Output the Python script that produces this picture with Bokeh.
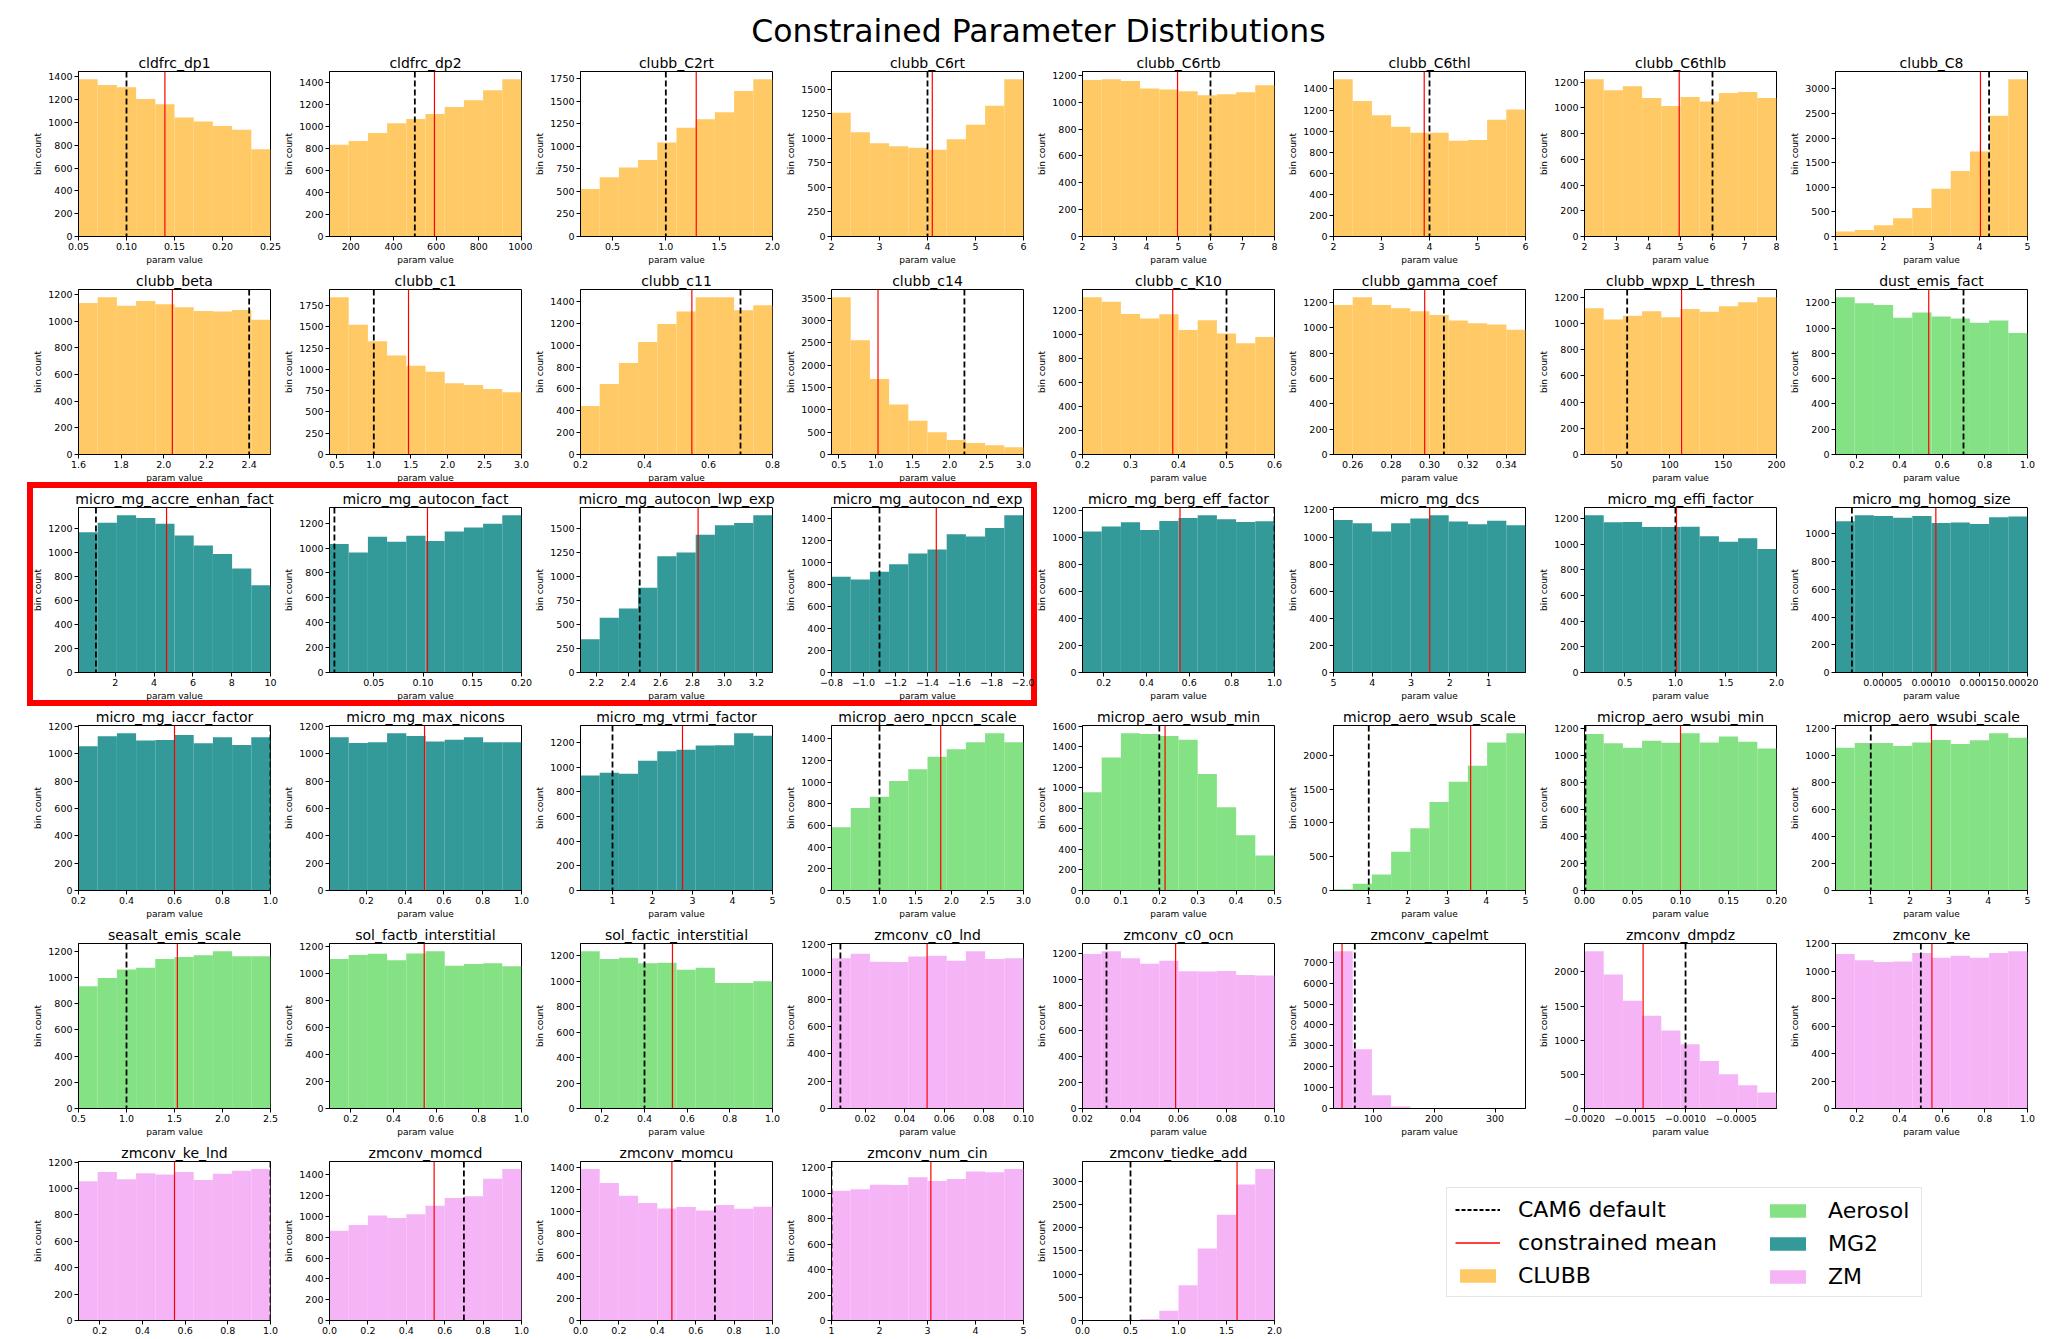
import numpy as np
from bokeh.plotting import figure
from bokeh.models import Range1d, FixedTicker, Span, Label, Legend, LegendItem, Spacer
from bokeh.layouts import row, column
from bokeh.embed import file_html
from bokeh.resources import INLINE

# ---------------- data ----------------
names = ["cldfrc_dp1", "cldfrc_dp2", "clubb_C2rt", "clubb_C6rt", "clubb_C6rtb", "clubb_C6thl", "clubb_C6thlb", "clubb_C8",
         "clubb_beta", "clubb_c1", "clubb_c11", "clubb_c14", "clubb_c_K10", "clubb_gamma_coef", "clubb_wpxp_L_thresh", "dust_emis_fact",
         "micro_mg_accre_enhan_fact", "micro_mg_autocon_fact", "micro_mg_autocon_lwp_exp", "micro_mg_autocon_nd_exp",
         "micro_mg_berg_eff_factor", "micro_mg_dcs", "micro_mg_effi_factor", "micro_mg_homog_size",
         "micro_mg_iaccr_factor", "micro_mg_max_nicons", "micro_mg_vtrmi_factor", "microp_aero_npccn_scale",
         "microp_aero_wsub_min", "microp_aero_wsub_scale", "microp_aero_wsubi_min", "microp_aero_wsubi_scale",
         "seasalt_emis_scale", "sol_factb_interstitial", "sol_factic_interstitial", "zmconv_c0_lnd",
         "zmconv_c0_ocn", "zmconv_capelmt", "zmconv_dmpdz", "zmconv_ke",
         "zmconv_ke_lnd", "zmconv_momcd", "zmconv_momcu", "zmconv_num_cin", "zmconv_tiedke_add"]

groups = ["CLUBB"] * 15 + ["Aerosol"] + ["MG2"] * 11 + ["Aerosol"] * 8 + ["ZM"] * 10

# axis value at the left / right edge of each panel (reversed axes have left > right)
x_left = [0.05, 100, 0.2, 2, 2, 2, 2, 1,
          1.6, 0.4, 0.2, 0.4, 0.2, 0.25, 20, 0.1,
          0.1, 0.005, 2.1, -0.8, 0.1, 5e-5, 0.1, 1e-6,
          0.2, 1e5, 0.2, 0.333, 0.0, 0.1, 0.0, 0.1,
          0.5, 0.1, 0.1, 0.003, 0.02, 35, -0.002, 1e-6,
          1e-6, 0.0, 0.0, 1, 0.0]
x_right = [0.25, 1000, 2.0, 6, 8, 6, 8, 5,
           2.5, 3.0, 0.8, 3.0, 0.6, 0.35, 200, 1.0,
           10, 0.2, 3.3, -2.0, 1.0, 5e-7, 2.0, 2e-4,
           1.0, 1e7, 5, 3.0, 0.5, 5, 0.2, 5,
           2.5, 1.0, 1.0, 0.1, 0.1, 350, -0.0001, 1e-5,
           1e-5, 1.0, 1.0, 5, 2.0]

counts = [
    [1378, 1328, 1308, 1206, 1160, 1044, 1009, 968, 936, 765],
    [836, 872, 944, 1032, 1071, 1116, 1180, 1243, 1334, 1433],
    [526, 658, 765, 849, 1044, 1206, 1301, 1379, 1614, 1743],
    [1260, 1061, 949, 919, 905, 885, 990, 1139, 1331, 1601],
    [1165, 1170, 1158, 1101, 1094, 1081, 1052, 1059, 1074, 1126],
    [1491, 1286, 1151, 1041, 984, 984, 909, 915, 1107, 1204],
    [1222, 1137, 1168, 1077, 1015, 1085, 1049, 1116, 1124, 1077],
    [101, 134, 229, 370, 578, 968, 1332, 1728, 2455, 3194],
    [1136, 1179, 1116, 1151, 1128, 1105, 1077, 1072, 1085, 1011],
    [1847, 1525, 1330, 1163, 1042, 972, 836, 817, 770, 731],
    [445, 645, 839, 1030, 1194, 1309, 1439, 1439, 1321, 1367],
    [3520, 2560, 1690, 1120, 756, 497, 326, 259, 207, 163],
    [1305, 1269, 1167, 1130, 1165, 1033, 1115, 1005, 923, 975],
    [1179, 1240, 1180, 1155, 1130, 1100, 1058, 1035, 1025, 985],
    [1117, 1031, 1059, 1094, 1049, 1112, 1091, 1132, 1162, 1200],
    [1243, 1196, 1183, 1081, 1123, 1092, 1076, 1042, 1060, 961],
    [1172, 1250, 1312, 1290, 1242, 1144, 1060, 990, 869, 729],
    [1032, 965, 1092, 1051, 1100, 1057, 1133, 1165, 1195, 1263],
    [346, 571, 668, 883, 1212, 1250, 1437, 1534, 1559, 1638],
    [871, 847, 916, 986, 1083, 1119, 1258, 1237, 1315, 1430],
    [1045, 1082, 1114, 1057, 1124, 1146, 1165, 1136, 1116, 1121],
    [1126, 1101, 1040, 1101, 1136, 1160, 1114, 1094, 1121, 1087],
    [1226, 1172, 1174, 1135, 1135, 1138, 1063, 1021, 1047, 964],
    [1090, 1133, 1128, 1116, 1128, 1077, 1082, 1070, 1119, 1125],
    [1057, 1129, 1151, 1098, 1103, 1139, 1078, 1122, 1066, 1122],
    [1122, 1081, 1086, 1151, 1132, 1091, 1105, 1122, 1086, 1086],
    [934, 956, 948, 1052, 1130, 1141, 1176, 1179, 1275, 1256],
    [585, 763, 867, 1011, 1121, 1235, 1305, 1369, 1452, 1369],
    [956, 1294, 1529, 1522, 1503, 1468, 1133, 811, 537, 341],
    [20, 98, 235, 572, 919, 1310, 1609, 1843, 2186, 2323],
    [1161, 1092, 1060, 1111, 1097, 1166, 1099, 1143, 1104, 1053],
    [1060, 1094, 1094, 1072, 1099, 1116, 1087, 1114, 1166, 1134],
    [934, 997, 1061, 1074, 1142, 1157, 1170, 1200, 1162, 1162],
    [1107, 1136, 1146, 1097, 1148, 1163, 1057, 1070, 1075, 1052],
    [1234, 1174, 1184, 1140, 1145, 1090, 1106, 986, 986, 999],
    [1101, 1135, 1076, 1074, 1115, 1120, 1084, 1152, 1096, 1101],
    [1195, 1215, 1161, 1120, 1143, 1061, 1059, 1064, 1033, 1028],
    [7520, 2830, 630, 90, 12, 3, 1, 0, 0, 0],
    [2301, 1961, 1578, 1359, 1141, 942, 694, 500, 340, 233],
    [1125, 1080, 1067, 1072, 1133, 1099, 1113, 1099, 1133, 1145],
    [1055, 1125, 1070, 1116, 1106, 1125, 1065, 1111, 1135, 1147],
    [862, 917, 1009, 985, 1022, 1102, 1178, 1194, 1363, 1455],
    [1389, 1262, 1145, 1077, 1027, 1041, 1009, 1059, 1024, 1044],
    [1019, 1032, 1067, 1064, 1125, 1097, 1112, 1170, 1165, 1190],
    [0, 0, 0, 35, 210, 760, 1552, 2276, 2931, 3262],
]

# CAM6 default (dashed black) and constrained mean (red); None = not shown
defaults = [0.10, 500, 1.0, 4.0, 6.0, 4.0, 6.0, 4.2,
            2.4, 1.0, 0.7, 2.2, 0.5, 0.3075, 60, 0.7,
            1.0, 0.01, 2.47, -1.1, 1.0, None, 1.0, 1.8e-5,
            1.0, None, 1.0, 1.0, 0.2, 1.0, 0.001, 1.0,
            1.0, None, 0.4, 0.0075, 0.03, 70, -0.001, 0.5e-5,
            1.0e-5, 0.7, 0.7, 1.0, 0.5]
means = [0.140, 592, 1.285, 4.1, 4.97, 3.89, 4.96, 4.02,
         2.04, 1.47, 0.548, 1.03, 0.388, 0.2975, 111, 0.537,
         4.64, 0.1045, 2.835, -1.455, 0.557, 2.52e-5, 1.01, 1.05e-4,
         0.6, 0.5e7, 2.75, 1.85, 0.215, 3.6, 0.1, 2.55,
         1.53, 0.544, 0.531, 0.0513, 0.0588, 49, -0.00142, 0.552e-5,
         0.55e-5, 0.545, 0.476, 3.07, 1.61]

xticks = [
    [0.05, 0.10, 0.15, 0.20, 0.25], [200, 400, 600, 800, 1000], [0.5, 1.0, 1.5, 2.0], [2, 3, 4, 5, 6],
    [2, 3, 4, 5, 6, 7, 8], [2, 3, 4, 5, 6], [2, 3, 4, 5, 6, 7, 8], [1, 2, 3, 4, 5],
    [1.6, 1.8, 2.0, 2.2, 2.4], [0.5, 1.0, 1.5, 2.0, 2.5, 3.0], [0.2, 0.4, 0.6, 0.8], [0.5, 1.0, 1.5, 2.0, 2.5, 3.0],
    [0.2, 0.3, 0.4, 0.5, 0.6], [0.26, 0.28, 0.30, 0.32, 0.34], [50, 100, 150, 200], [0.2, 0.4, 0.6, 0.8, 1.0],
    [2, 4, 6, 8, 10], [0.05, 0.10, 0.15, 0.20], [2.2, 2.4, 2.6, 2.8, 3.0, 3.2], [-0.8, -1.0, -1.2, -1.4, -1.6, -1.8, -2.0],
    [0.2, 0.4, 0.6, 0.8, 1.0], [5e-5, 4e-5, 3e-5, 2e-5, 1e-5], [0.5, 1.0, 1.5, 2.0], [5e-5, 1e-4, 1.5e-4, 2e-4],
    [0.2, 0.4, 0.6, 0.8, 1.0], [2e6, 4e6, 6e6, 8e6, 1e7], [1, 2, 3, 4, 5], [0.5, 1.0, 1.5, 2.0, 2.5, 3.0],
    [0.0, 0.1, 0.2, 0.3, 0.4, 0.5], [1, 2, 3, 4, 5], [0.0, 0.05, 0.10, 0.15, 0.20], [1, 2, 3, 4, 5],
    [0.5, 1.0, 1.5, 2.0, 2.5], [0.2, 0.4, 0.6, 0.8, 1.0], [0.2, 0.4, 0.6, 0.8, 1.0], [0.02, 0.04, 0.06, 0.08, 0.10],
    [0.02, 0.04, 0.06, 0.08, 0.10], [100, 200, 300], [-0.002, -0.0015, -0.001, -0.0005], [2e-6, 4e-6, 6e-6, 8e-6, 1e-5],
    [2e-6, 4e-6, 6e-6, 8e-6, 1e-5], [0.0, 0.2, 0.4, 0.6, 0.8, 1.0], [0.0, 0.2, 0.4, 0.6, 0.8, 1.0], [1, 2, 3, 4, 5],
    [0.0, 0.5, 1.0, 1.5, 2.0],
]
xlabels = [
    ["0.05", "0.10", "0.15", "0.20", "0.25"], ["200", "400", "600", "800", "1000"], ["0.5", "1.0", "1.5", "2.0"], ["2", "3", "4", "5", "6"],
    ["2", "3", "4", "5", "6", "7", "8"], ["2", "3", "4", "5", "6"], ["2", "3", "4", "5", "6", "7", "8"], ["1", "2", "3", "4", "5"],
    ["1.6", "1.8", "2.0", "2.2", "2.4"], ["0.5", "1.0", "1.5", "2.0", "2.5", "3.0"], ["0.2", "0.4", "0.6", "0.8"], ["0.5", "1.0", "1.5", "2.0", "2.5", "3.0"],
    ["0.2", "0.3", "0.4", "0.5", "0.6"], ["0.26", "0.28", "0.30", "0.32", "0.34"], ["50", "100", "150", "200"], ["0.2", "0.4", "0.6", "0.8", "1.0"],
    ["2", "4", "6", "8", "10"], ["0.05", "0.10", "0.15", "0.20"], ["2.2", "2.4", "2.6", "2.8", "3.0", "3.2"],
    ["\u22120.8", "\u22121.0", "\u22121.2", "\u22121.4", "\u22121.6", "\u22121.8", "\u22122.0"],
    ["0.2", "0.4", "0.6", "0.8", "1.0"], ["5", "4", "3", "2", "1"], ["0.5", "1.0", "1.5", "2.0"], ["0.00005", "0.00010", "0.00015", "0.00020"],
    ["0.2", "0.4", "0.6", "0.8", "1.0"], ["0.2", "0.4", "0.6", "0.8", "1.0"], ["1", "2", "3", "4", "5"], ["0.5", "1.0", "1.5", "2.0", "2.5", "3.0"],
    ["0.0", "0.1", "0.2", "0.3", "0.4", "0.5"], ["1", "2", "3", "4", "5"], ["0.00", "0.05", "0.10", "0.15", "0.20"], ["1", "2", "3", "4", "5"],
    ["0.5", "1.0", "1.5", "2.0", "2.5"], ["0.2", "0.4", "0.6", "0.8", "1.0"], ["0.2", "0.4", "0.6", "0.8", "1.0"], ["0.02", "0.04", "0.06", "0.08", "0.10"],
    ["0.02", "0.04", "0.06", "0.08", "0.10"], ["100", "200", "300"], ["\u22120.0020", "\u22120.0015", "\u22120.0010", "\u22120.0005"], ["0.2", "0.4", "0.6", "0.8", "1.0"],
    ["0.2", "0.4", "0.6", "0.8", "1.0"], ["0.0", "0.2", "0.4", "0.6", "0.8", "1.0"], ["0.0", "0.2", "0.4", "0.6", "0.8", "1.0"], ["1", "2", "3", "4", "5"],
    ["0.0", "0.5", "1.0", "1.5", "2.0"],
]
ysteps = [200, 200, 250, 250, 200, 200, 200, 500,
          200, 250, 200, 500, 200, 200, 200, 200,
          200, 200, 250, 200, 200, 200, 200, 200,
          200, 200, 200, 200, 200, 500, 200, 200,
          200, 200, 200, 200, 200, 1000, 500, 200,
          200, 200, 200, 200, 500]
offset_texts = {21: "1e\u22125", 25: "1e7", 39: "1e\u22125"}

group_colors = {"CLUBB": "#FFC966", "Aerosol": "#84E184", "MG2": "#339999", "ZM": "#F5B4F5"}
legend_groups = ["CLUBB", "Aerosol", "MG2", "ZM"]
main_title = "Constrained Parameter Distributions"

FONT = "DejaVu Sans"
DASH = "6 3"


def style_axis(ax):
    ax.major_label_text_font = FONT
    ax.major_label_text_font_size = "9.5px"
    ax.major_label_text_color = "black"
    ax.major_tick_out = 4
    ax.major_tick_in = 0
    ax.major_label_standoff = 2
    ax.minor_tick_line_color = None
    ax.axis_line_color = "black"
    ax.major_tick_line_color = "black"
    ax.axis_label_text_font = FONT
    ax.axis_label_text_font_size = "9px"
    ax.axis_label_text_font_style = "normal"
    ax.axis_label_text_color = "black"
    ax.axis_label_standoff = 2


def make_panel(i, h, last):
    lo, hi = x_left[i], x_right[i]
    c = np.asarray(counts[i], dtype=float)
    edges = np.linspace(lo, hi, len(c) + 1)
    ytop = float(c.max()) * 1.05
    p = figure(width=251, height=h, output_backend="svg", toolbar_location=None,
               x_range=Range1d(lo, hi), y_range=Range1d(0, ytop),
               min_border_left=48, min_border_right=11, min_border_top=22,
               min_border_bottom=(15 if last else 30))
    p.title.text = names[i]
    p.title.align = "center"
    p.title.text_font = FONT
    p.title.text_font_size = "14px"
    p.title.text_font_style = "normal"
    p.title.text_color = "black"
    p.title.standoff = 2
    p.border_fill_alpha = 0
    p.background_fill_color = "white"
    p.outline_line_color = "black"
    p.outline_line_width = 1
    p.grid.visible = False

    p.quad(left=edges[:-1], right=edges[1:], bottom=0, top=c,
           fill_color=group_colors[groups[i]], line_color=None)
    if defaults[i] is not None:
        p.add_layout(Span(location=defaults[i], dimension="height", line_color="black",
                          line_dash=DASH, line_width=1.8))
    p.add_layout(Span(location=means[i], dimension="height", line_color="red", line_width=1.2))

    p.xaxis.ticker = FixedTicker(ticks=xticks[i])
    p.xaxis.major_label_overrides = {t: s for t, s in zip(xticks[i], xlabels[i])}
    p.yaxis.ticker = FixedTicker(ticks=[float(v) for v in np.arange(0, ytop, ysteps[i])])
    style_axis(p.xaxis[0])
    style_axis(p.yaxis[0])
    if not last:
        p.xaxis.axis_label = "param value"
    p.yaxis.axis_label = "bin count"

    if i in offset_texts:
        p.add_layout(Label(x=hi, y=-ytop * 0.125, text=offset_texts[i], text_align="right",
                           text_baseline="middle", text_font=FONT, text_font_size="9.5px",
                           text_color="black"))
    return p


H = 218
H_LAST = 197
figs = []
for i in range(len(names)):
    last = i >= 40
    figs.append(make_panel(i, H_LAST if last else H, last))

# ---------------- legend panel ----------------
lf = figure(width=753, height=H_LAST, output_backend="svg", toolbar_location=None,
            x_range=Range1d(0, 1), y_range=Range1d(0, 1), x_axis_type=None, y_axis_type=None,
            min_border_left=0, min_border_right=0, min_border_top=0, min_border_bottom=0)
lf.outline_line_color = None
lf.grid.visible = False
lf.border_fill_alpha = 0
lf.background_fill_alpha = 0
# legend-only glyphs, placed outside the visible 0..1 ranges
hidden_x = [2.0, 3.0]
hidden_y = [2.0, 2.0]
r_def = lf.line(x=hidden_x, y=hidden_y, line_color="black", line_dash="4 2", line_width=1.8)
r_mean = lf.line(x=hidden_x, y=hidden_y, line_color="red", line_width=1.5)
r_groups = {g: lf.quad(left=[2.0], right=[3.0], top=[3.0], bottom=[2.0],
                       fill_color=group_colors[g], line_color=None)
            for g in legend_groups}


def style_legend(lg):
    lg.label_text_font = FONT
    lg.label_text_font_size = "22px"
    lg.label_text_color = "black"
    lg.glyph_width = 45
    lg.glyph_height = 17
    lg.label_height = 26
    lg.label_standoff = 18
    lg.spacing = 7
    lg.padding = 8
    lg.margin = 0


legA = Legend(items=[LegendItem(label="CAM6 default", renderers=[r_def]),
                     LegendItem(label="constrained mean", renderers=[r_mean]),
                     LegendItem(label="CLUBB", renderers=[r_groups["CLUBB"]])],
              location=(161, 23))
style_legend(legA)
legA.label_width = 395
legA.border_line_color = "#cccccc"
legA.border_line_width = 1
legA.background_fill_color = "white"
legA.background_fill_alpha = 1

legB = Legend(items=[LegendItem(label="Aerosol", renderers=[r_groups["Aerosol"]]),
                     LegendItem(label="MG2", renderers=[r_groups["MG2"]]),
                     LegendItem(label="ZM", renderers=[r_groups["ZM"]])],
              location=(472, 23))
style_legend(legB)
legB.border_line_alpha = 0
legB.background_fill_alpha = 0
lf.add_layout(legA)
lf.add_layout(legB)

# ---------------- header (no plot title; ranges are the strip's pixels) ----------------
HDR_W, HDR_H = 2049, 49
hdr = figure(width=HDR_W, height=HDR_H, output_backend="svg", toolbar_location=None, title=None,
             x_range=Range1d(0, HDR_W), y_range=Range1d(0, HDR_H), x_axis_type=None, y_axis_type=None,
             min_border_left=0, min_border_right=0, min_border_top=0, min_border_bottom=0)
hdr.outline_line_color = None
hdr.grid.visible = False
hdr.border_fill_alpha = 0
hdr.background_fill_alpha = 0
hdr.add_layout(Label(x=1038, y=19, text=main_title, text_align="center", text_baseline="middle",
                     text_font=FONT, text_font_size="31.5px", text_color="black"))

# ---------------- layout ----------------
boxed = row(*figs[16:20], styles={"outline": "6px solid #ff0000", "outline-offset": "-3px"})
rows = [
    row(*figs[0:8]),
    row(*figs[8:16]),
    row(boxed, *figs[20:24]),
    row(*figs[24:32]),
    row(*figs[32:40]),
    row(*figs[40:45], lf),
]
layout = column(hdr, row(Spacer(width=30, height=10), column(*rows)))

open("out.html", "w").write(file_html(layout, INLINE))
